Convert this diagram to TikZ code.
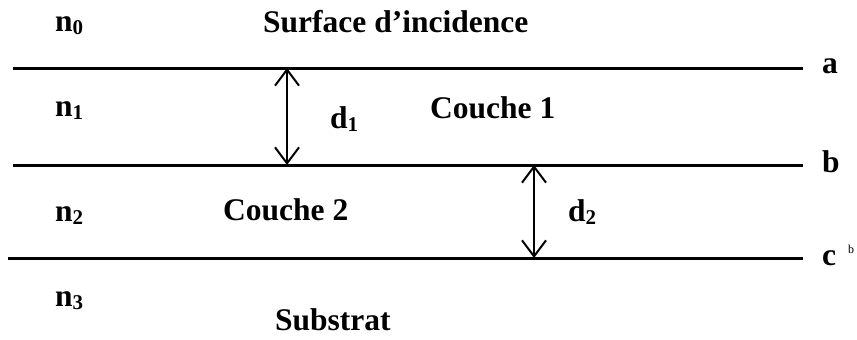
\documentclass[tikz,border=0pt]{standalone}
\usepackage{fontspec}
\setmainfont{Liberation Serif}
\usetikzlibrary{arrows.meta}
\newcommand{\sbs}[1]{\raisebox{-0.12em}{\fontsize{21}{21}\selectfont #1}}
\tikzset{
  lbl/.style={anchor=base west, inner sep=0pt, font=\fontsize{31.5}{36}\selectfont\bfseries},
  sml/.style={anchor=base west, inner sep=0pt, font=\fontsize{12}{14}\selectfont},
  layer/.style={line width=3pt},
  dim/.style={line width=2pt, {Straight Barb[length=16pt,width=24pt,line width=2pt]}-{Straight Barb[length=16pt,width=24pt,line width=2pt]}}
}
\begin{document}
\begin{tikzpicture}[x=1pt,y=-1pt]
\useasboundingbox (0,0) rectangle (857,340);
% interfaces
\coordinate (a1) at (13,68);  \coordinate (a2) at (803,68);
\coordinate (b1) at (13,165); \coordinate (b2) at (803,165);
\coordinate (c1) at (8,258);  \coordinate (c2) at (803,258);
\draw[layer] (a1) -- (a2);
\draw[layer] (b1) -- (b2);
\draw[layer] (c1) -- (c2);
% thickness arrows
\coordinate (d1t) at (287,68);  \coordinate (d1b) at (287,165);
\coordinate (d2t) at (534,165); \coordinate (d2b) at (534,258);
\draw[dim] (d1t) -- (d1b);
\draw[dim] (d2t) -- (d2b);
% labels
\node[lbl] (n0) at (55,31) {n\sbs{0}};
\node[lbl] (surf) at (263,32) {Surface d’incidence};
\node[lbl] (n1) at (55,116) {n\sbs{1}};
\node[lbl] (d1) at (330,128) {d\sbs{1}};
\node[lbl] (c1l) at (430,118) {Couche 1};
\node[lbl] (n2) at (55,221) {n\sbs{2}};
\node[lbl] (c2l) at (223,220) {Couche 2};
\node[lbl] (d2) at (568,221) {d\sbs{2}};
\node[lbl] (n3) at (55,306) {n\sbs{3}};
\node[lbl] (sub) at (275,330) {Substrat};
\node[lbl] (la) at (822,73) {a};
\node[lbl] (lb) at (822,172) {b};
\node[lbl] (lc) at (822,265) {c};
\node[sml] (lsb) at (848,253) {b};
\end{tikzpicture}
\end{document}
